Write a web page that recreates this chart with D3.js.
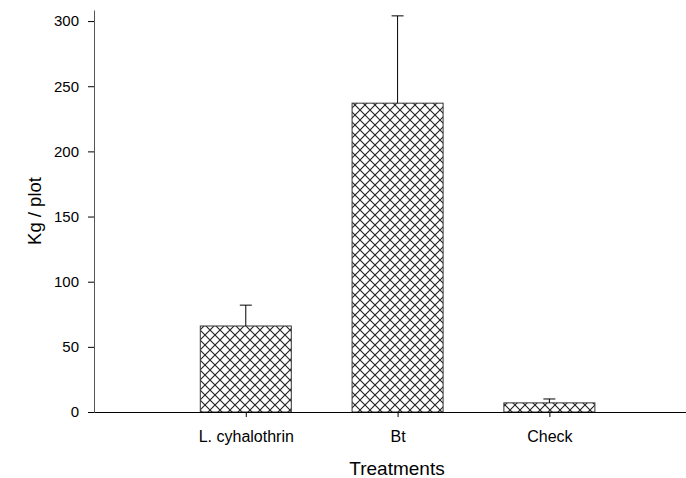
<!DOCTYPE html>
<html><head><meta charset="utf-8">
<script src="https://cdn.jsdelivr.net/npm/d3@7"></script>
<style>body{margin:0;background:#fff}svg{display:block}text{font-family:Arial,"Liberation Sans",sans-serif}</style>
</head><body><svg id="c" width="686" height="478"></svg>
<script>
const categories = ["L. cyhalothrin", "Bt", "Check"];
const means = [66, 237, 7];
const errors = [16, 67, 3];
const yTicks = [0, 50, 100, 150, 200, 250, 300];

const svg = d3.select("#c");
const x = d3.scaleLinear().domain([0, 3.9]).range([94, 686]);
const y = d3.scaleLinear().domain([0, 308.5]).range([412, 10]);
const barW = 91;

const defs = svg.append("defs");
const pat = defs.append("pattern").attr("id","hatch").attr("patternUnits","userSpaceOnUse")
  .attr("width",10).attr("height",10);
pat.append("rect").attr("width",10).attr("height",10).attr("fill","#fff");
pat.append("path").attr("d","M0,0L10,10M10,0L0,10M-1,1L1,-1M9,11L11,9").attr("stroke","#222").attr("stroke-width",1.1);

// bars
categories.forEach((c,i)=>{
  const cx = x(i+1);
  svg.append("rect").attr("x",cx-barW/2).attr("y",y(means[i])).attr("width",barW)
    .attr("height",y(0)-y(means[i])).attr("fill","url(#hatch)").attr("stroke","#333").attr("stroke-width",1);
  svg.append("line").attr("x1",cx).attr("x2",cx).attr("y1",y(means[i])).attr("y2",y(means[i]+errors[i])).attr("stroke","#000");
  svg.append("line").attr("x1",cx-6).attr("x2",cx+6).attr("y1",y(means[i]+errors[i])).attr("y2",y(means[i]+errors[i])).attr("stroke","#000");
});

// y axis
const ya = svg.append("g").attr("transform","translate(94,0)")
  .call(d3.axisLeft(y).tickValues(yTicks).tickSize(6).tickPadding(9).tickSizeOuter(0));
ya.select(".domain").attr("stroke","#555");
ya.selectAll("text").attr("font-size",15).attr("fill","#000");
ya.selectAll(".tick line").attr("stroke","#000");

// x axis
const xa = svg.append("g").attr("transform","translate(0,412)")
  .call(d3.axisBottom(x).tickValues([1,2,3]).tickFormat((d)=>categories[d-1]).tickSize(5).tickPadding(14).tickSizeOuter(0));
xa.select(".domain").attr("stroke","#000");
xa.selectAll("text").attr("font-size",16).attr("fill","#000");

svg.append("text").attr("transform","translate(41,211) rotate(-90)").attr("text-anchor","middle")
  .attr("font-size",18.5).text("Kg / plot");
svg.append("text").attr("x",397).attr("y",475).attr("text-anchor","middle").attr("font-size",19).text("Treatments");
</script></body></html>
